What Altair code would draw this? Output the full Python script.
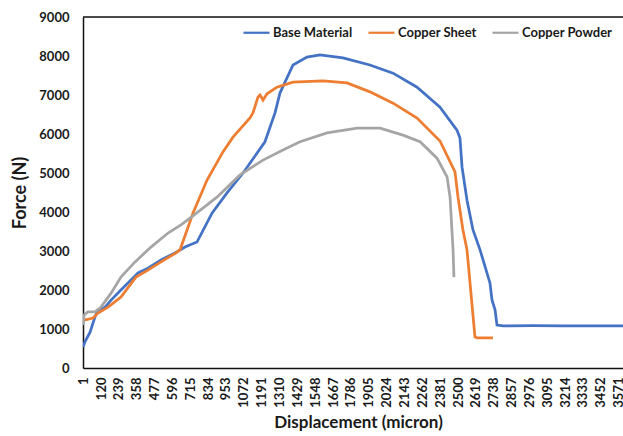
import altair as alt
import pandas as pd

series_names = ["Base Material", "Copper Sheet", "Copper Powder"]
series_colors = ["#4472C4", "#ED7D31", "#A5A5A5"]

base_x = [1, 13, 47, 80, 100, 147, 187, 253, 320, 367, 433, 520, 613, 680, 760, 860, 960,
          1067, 1213, 1280, 1313, 1400, 1493, 1580, 1733, 1913, 2067, 2227, 2380, 2493, 2513,
          2527, 2560, 2600, 2647, 2667, 2713, 2727, 2747, 2760, 2800, 3000, 3200, 3400, 3600]
base_y = [540, 670, 920, 1310, 1490, 1560, 1740, 2000, 2260, 2440, 2560, 2770, 2950, 3100, 3230,
          3970, 4490, 5000, 5800, 6540, 7050, 7770, 7970, 8030, 7950, 7770, 7560, 7200, 6690, 6100,
          5900, 5150, 4300, 3540, 3030, 2770, 2180, 1740, 1490, 1100, 1080, 1085, 1080, 1080, 1080]

sheet_x = [1, 13, 67, 100, 167, 253, 353, 433, 520, 620, 647, 733, 827, 933, 1000, 1113, 1133,
           1167, 1180, 1200, 1227, 1293, 1400, 1600, 1760, 1913, 2067, 2227, 2380, 2480, 2500,
           2533, 2560, 2613, 2627, 2733]
sheet_y = [1280, 1230, 1280, 1410, 1560, 1820, 2330, 2510, 2720, 2950, 3030, 3970, 4820, 5540,
           5920, 6410, 6540, 6950, 7000, 6870, 7030, 7200, 7330, 7360, 7310, 7080, 6790, 6410,
           5820, 5030, 4380, 3540, 3030, 800, 770, 770]

powder_x = [1, 7, 33, 80, 120, 187, 253, 347, 453, 567, 653, 733, 893, 1047, 1200, 1333, 1447,
            1627, 1827, 1980, 2133, 2247, 2360, 2427, 2447, 2467, 2473]
powder_y = [1100, 1360, 1440, 1440, 1560, 1920, 2330, 2720, 3100, 3460, 3670, 3900, 4380, 4950,
            5330, 5590, 5800, 6030, 6150, 6150, 5970, 5800, 5380, 4900, 4380, 3030, 2330]

x_tick_values = [1, 120, 239, 358, 477, 596, 715, 834, 953, 1072, 1191, 1310, 1429, 1548, 1667,
                 1786, 1905, 2024, 2143, 2262, 2381, 2500, 2619, 2738, 2857, 2976, 3095, 3214,
                 3333, 3452, 3571]
y_tick_values = [0, 1000, 2000, 3000, 4000, 5000, 6000, 7000, 8000, 9000]

rows = []
for name, xs, ys in [(series_names[0], base_x, base_y),
                     (series_names[1], sheet_x, sheet_y),
                     (series_names[2], powder_x, powder_y)]:
    for i, (xv, yv) in enumerate(zip(xs, ys)):
        rows.append({"series": name, "order": i, "x": xv, "y": yv})
df = pd.DataFrame(rows)

FONT = "Lato"
TEXT = "#1a1a1a"

x_scale = alt.Scale(domain=[0, 3600], nice=False, zero=False)
y_scale = alt.Scale(domain=[0, 9000], nice=False)

x_axis = alt.Axis(values=x_tick_values, format="d", labelAngle=-90, ticks=False, grid=False,
                  labelFlush=False, labelOverlap=False, labelPadding=9,
                  labelFont=FONT, labelFontSize=13, labelFontWeight="bold",
                  labelColor=TEXT, domainColor="#111111", domainWidth=1.5,
                  title="Displacement (micron)", titleFont=FONT, titleFontSize=17,
                  titleFontWeight="bold", titleColor=TEXT, titlePadding=7,
                  titleX=275)
y_axis = alt.Axis(values=y_tick_values, format="d", ticks=False, grid=False, labelPadding=14,
                  labelOverlap=False, labelFont=FONT, labelFontSize=13, labelFontWeight="bold",
                  labelColor=TEXT, domainColor="#111111", domainWidth=1.5,
                  title="Force (N)", titleFont=FONT, titleFontSize=18,
                  titleFontWeight="bold", titleColor=TEXT, titlePadding=9)

lines = alt.Chart(df).mark_line(strokeWidth=2.75, clip=True).encode(
    x=alt.X("x:Q", scale=x_scale, axis=x_axis),
    y=alt.Y("y:Q", scale=y_scale, axis=y_axis),
    color=alt.Color("series:N",
                    scale=alt.Scale(domain=series_names, range=series_colors),
                    legend=alt.Legend(title=None, orient="none", legendX=159, legendY=1,
                                      direction="horizontal", symbolType="stroke",
                                      symbolSize=676, symbolStrokeWidth=2.2, labelOffset=2,
                                      columnPadding=11, padding=0,
                                      labelFont=FONT, labelFontSize=13,
                                      labelFontWeight="bold", labelColor=TEXT)),
    order="order:Q",
)

frame_df = pd.DataFrame({"a": [0]})
top_line = alt.Chart(frame_df).mark_rule(color="#111111", strokeWidth=1.5).encode(
    y=alt.datum(9000, scale=y_scale, axis=y_axis),
    x=alt.datum(0, scale=x_scale, axis=x_axis),
    x2=alt.datum(3600),
)

chart = alt.layer(lines, top_line).properties(
    width=540, height=351,
    autosize=alt.AutoSizeParams(type="none"),
    padding={"left": 83, "top": 17, "right": 0, "bottom": 68},
).configure_view(stroke=None).configure(background="white")

chart.save("out.html", embed_options={"renderer": "svg", "actions": False})
